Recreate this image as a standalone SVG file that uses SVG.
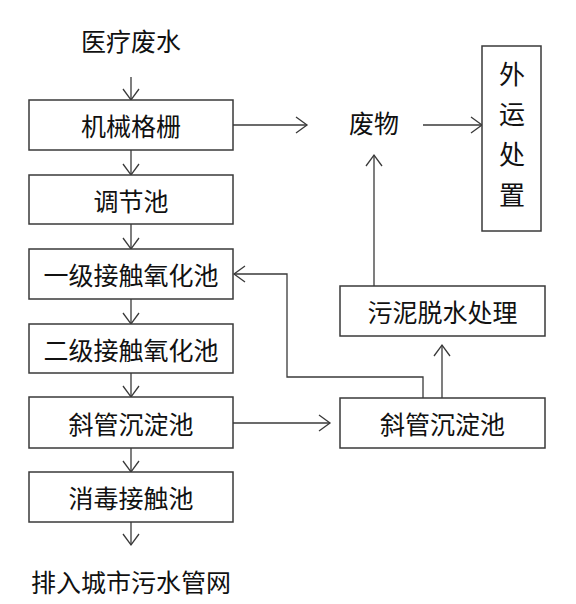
<svg xmlns="http://www.w3.org/2000/svg" width="576" height="604" viewBox="0 0 576 604">
<defs>
<marker id="ah" markerUnits="userSpaceOnUse" markerWidth="14" markerHeight="20" viewBox="-12 -10 14 20" refX="0" refY="0" orient="auto">
<path d="M-11,-8 L0,0 L-11,8" fill="none" stroke="#3a3a3a" stroke-width="1.3"/>
</marker>
</defs>
<style>
rect{fill:#fff;stroke:#3a3a3a;stroke-width:1.5}
text{font-family:"Noto Sans CJK SC","Noto Sans CJK JP",sans-serif;font-size:25px;fill:#111;text-anchor:middle;dominant-baseline:central}
.c{fill:none;stroke:#3a3a3a;stroke-width:1.3}
.a{marker-end:url(#ah)}
</style>
<rect width="576" height="604" style="fill:#fff;stroke:none"/>
<g id="connectors">
<line class="c a" x1="131" y1="77" x2="131" y2="100"/>
<line class="c a" x1="131" y1="150" x2="131" y2="175"/>
<line class="c a" x1="131" y1="224" x2="131" y2="249"/>
<line class="c a" x1="131" y1="299" x2="131" y2="324"/>
<line class="c a" x1="131" y1="373" x2="131" y2="397"/>
<line class="c a" x1="131" y1="448" x2="131" y2="472"/>
<line class="c a" x1="131" y1="522" x2="131" y2="545"/>
<line class="c a" x1="233" y1="125" x2="307" y2="125"/>
<line class="c a" x1="423" y1="125" x2="482" y2="125"/>
<line class="c a" x1="374" y1="286" x2="374" y2="155"/>
<line class="c a" x1="442" y1="398" x2="442" y2="345"/>
<line class="c a" x1="233" y1="423" x2="330" y2="423"/>
<polyline class="c a" points="423,398 423,377 287,377 287,274 234,274"/>
</g>
<g id="n_input"><text x="131" y="40">医疗废水</text></g>
<g id="n_grille"><rect x="29" y="100" width="204" height="50"/><text x="131" y="125">机械格栅</text></g>
<g id="n_adjust"><rect x="29" y="175" width="204" height="49"/><text x="131" y="199.5">调节池</text></g>
<g id="n_contact1"><rect x="29" y="249" width="204" height="50"/><text x="131" y="274">一级接触氧化池</text></g>
<g id="n_contact2"><rect x="29" y="324" width="204" height="49"/><text x="131" y="348.5">二级接触氧化池</text></g>
<g id="n_settle"><rect x="29" y="397" width="204" height="51"/><text x="131" y="422.5">斜管沉淀池</text></g>
<g id="n_disinfect"><rect x="29" y="472" width="204" height="50"/><text x="131" y="497">消毒接触池</text></g>
<g id="n_output"><text x="131" y="581">排入城市污水管网</text></g>
<g id="n_waste"><text x="374" y="122">废物</text></g>
<g id="n_transport"><rect x="482" y="46" width="59" height="185"/>
<text x="512" y="72" style="font-size:26px">外</text>
<text x="512" y="112" style="font-size:26px">运</text>
<text x="512" y="152" style="font-size:26px">处</text>
<text x="512" y="193" style="font-size:26px">置</text></g>
<g id="n_sludge"><rect x="340" y="286" width="205" height="50"/><text x="442.5" y="311">污泥脱水处理</text></g>
<g id="n_settle2"><rect x="340" y="398" width="205" height="50"/><text x="442.5" y="423">斜管沉淀池</text></g>
</svg>
